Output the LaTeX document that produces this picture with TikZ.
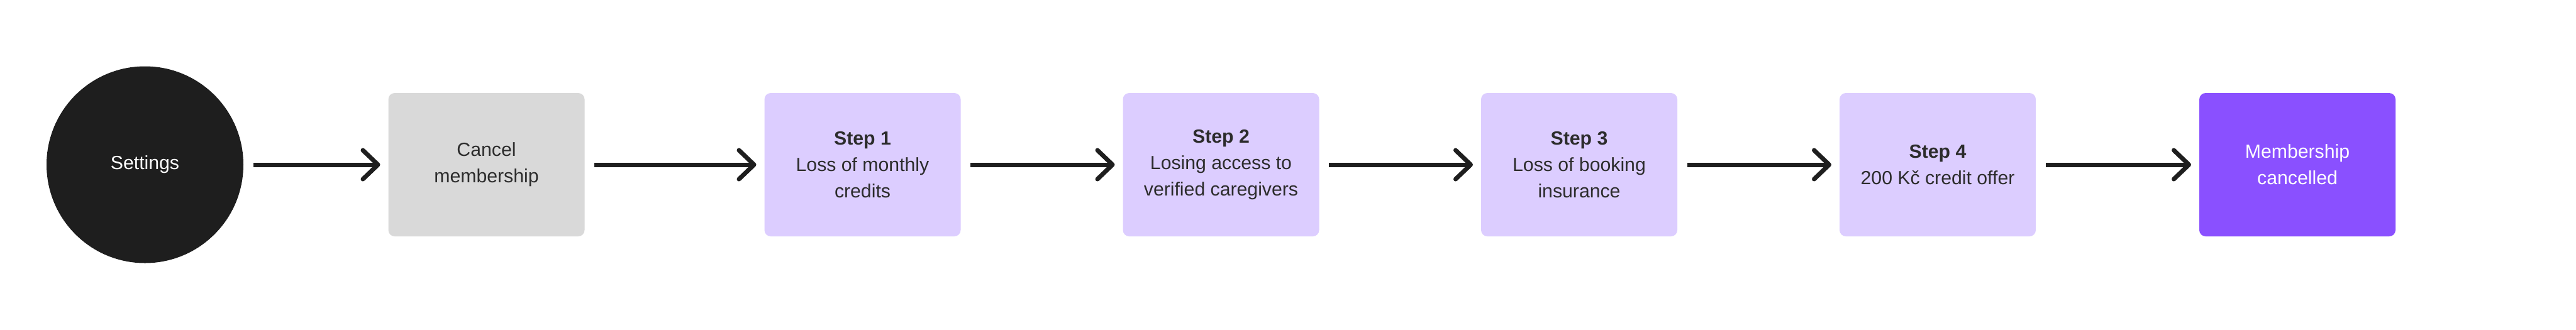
\documentclass[tikz,border=0pt]{standalone}
\usepackage{fontspec}
\setmainfont{Liberation Sans}
\usepackage{xcolor}
\usetikzlibrary{arrows.meta}
\definecolor{inkdark}{HTML}{1E1E1E}
\definecolor{greybox}{HTML}{D9D9D9}
\definecolor{lilac}{HTML}{DCCDFF}
\definecolor{purplebox}{HTML}{8A50FF}
\definecolor{textdark}{HTML}{2C2C2C}

\begin{document}
\begin{tikzpicture}[>={Straight Barb[length=2.4mm,width=4.6mm,round]},
  box/.style={rectangle,rounded corners=0.1cm,minimum width=3.12cm,minimum height=2.28cm,
    inner sep=0pt,outer sep=0pt,align=center,font=\fontsize{8.6}{12}\selectfont,text=textdark},
  stepbox/.style={box,fill=lilac},
  link/.style={->,line width=0.07cm,inkdark,shorten <=0.155cm,shorten >=0.13cm}]
\useasboundingbox (0,0) rectangle (40.96,5.24);
% start and cancel
\node[circle,fill=inkdark,minimum size=3.13cm,inner sep=0pt,outer sep=0pt,
  text=white,font=\fontsize{8.6}{12}\selectfont] (settings) at (2.305,2.62) {Settings};
\node[box,fill=greybox] (cancel) at (7.735,2.62) {Cancel\\membership};
% retention steps
\node[stepbox] (s1) at (13.715,2.62) {\textbf{Step 1}\\Loss of monthly\\credits};
\node[stepbox] (s2) at (19.415,2.62) {\textbf{Step 2}\\Losing access to\\verified caregivers};
\node[stepbox] (s3) at (25.11,2.62) {\textbf{Step 3}\\Loss of booking\\insurance};
\node[stepbox] (s4) at (30.81,2.62) {\textbf{Step 4}\\200 Kč credit offer};
\node[box,fill=purplebox,text=white] (done) at (36.53,2.62) {Membership\\cancelled};
% arrows
\draw[link] (settings) -- (cancel);
\draw[link] (cancel) -- (s1);
\draw[link] (s1) -- (s2);
\draw[link] (s2) -- (s3);
\draw[link] (s3) -- (s4);
\draw[link] (s4) -- (done);
\end{tikzpicture}
\end{document}
